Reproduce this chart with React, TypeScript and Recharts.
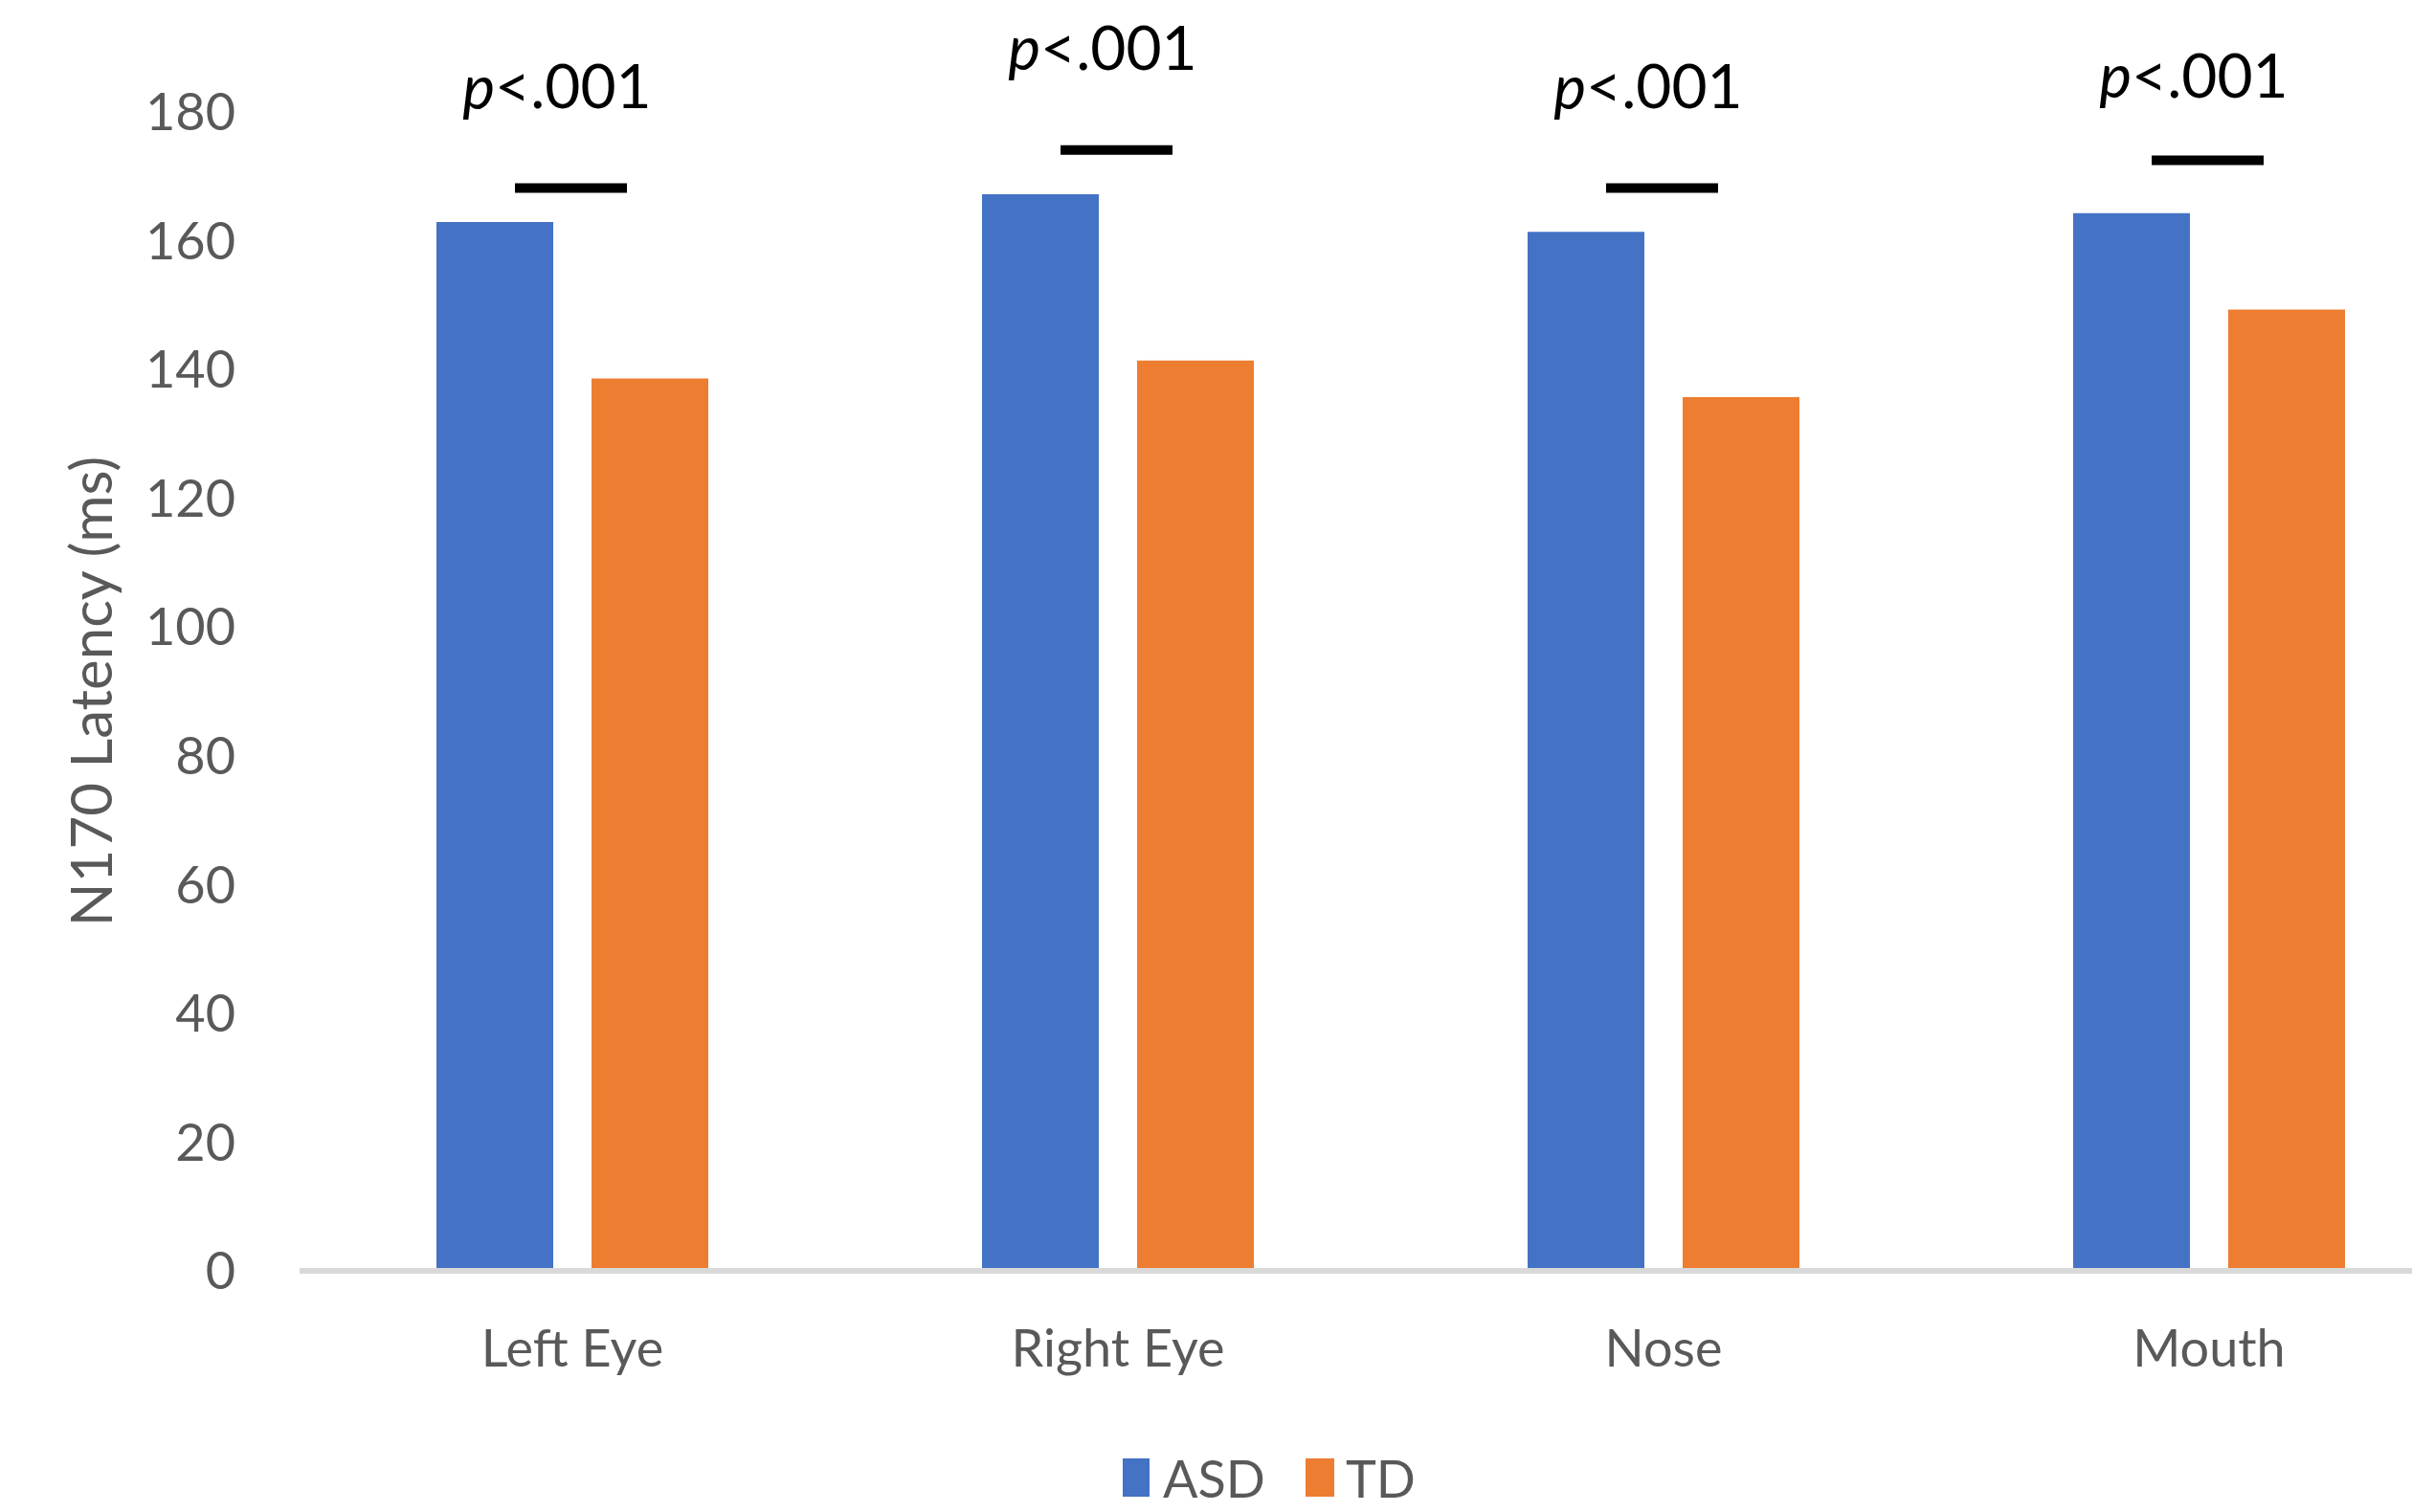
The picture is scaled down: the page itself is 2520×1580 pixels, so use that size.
import { BarChart, Bar, XAxis, YAxis, Legend, ReferenceDot } from "recharts";

// 各面部区域
const categories = ["Left Eye", "Right Eye", "Nose", "Mouth"];
// N170 潜伏期 (ms)
const asdValues = [162.9, 167.2, 161.4, 164.3];
const tdValues = [138.6, 141.4, 135.7, 149.3];
// 显著性标记位置 (y 轴数值)
const sigLineValues = [168.2, 174.1, 168.2, 172.5];
const sigTextValues = [184.2, 190.2, 184.2, 185.9];
const sigText = "<.001";
const yTicks = [0, 20, 40, 60, 80, 100, 120, 140, 160, 180];

const data = categories.map((name, i) => ({ name, ASD: asdValues[i], TD: tdValues[i] }));

const FONT = "Lato, 'Open Sans', sans-serif";
const GREY = "#595959";
const BLUE = "#4472C4";
const ORANGE = "#ED7D31";

const SigLine = (props: any) => (
  <line x1={props.cx - 60} x2={props.cx + 57} y1={props.cy} y2={props.cy} stroke="#000" strokeWidth={10} />
);

const SigText = (props: any) => (
  <text
    x={props.cx - 16}
    y={props.cy}
    textAnchor="middle"
    dominantBaseline="central"
    fontSize={64}
    fontFamily={FONT}
    fill="#000"
  >
    <tspan fontStyle="italic">p</tspan>
    {sigText}
  </text>
);

const YLabel = (props: any) => {
  const vb = props.viewBox || {};
  const cy = vb.y + vb.height / 2;
  return (
    <text
      x={94}
      y={cy}
      transform={`rotate(-90, 94, ${cy})`}
      textAnchor="middle"
      dominantBaseline="central"
      fontSize={60}
      fontFamily={FONT}
      fill={GREY}
    >
      N170 Latency (ms)
    </text>
  );
};

const LegendContent = () => (
  <div style={{ display: "flex", alignItems: "center", height: 56, fontFamily: FONT, fontSize: 54, color: GREY }}>
    <span style={{ display: "inline-block", width: 28, height: 40, background: BLUE, marginRight: 14 }} />
    <span style={{ marginRight: 42 }}>ASD</span>
    <span style={{ display: "inline-block", width: 30, height: 40, background: ORANGE, marginRight: 12 }} />
    <span>TD</span>
  </div>
);

export default function App() {
  return (
    <div style={{ position: "absolute", left: 0, top: 0, width: 2520, height: 1580, overflow: "hidden", background: "#fff" }}>
      <BarChart
        width={2650}
        height={1580}
        data={data}
        margin={{ top: 117, right: 57, left: 0, bottom: 8 }}
        barSize={122}
        barGap={40}
      >
        <XAxis
          dataKey="name"
          height={188}
          tickLine={false}
          tickSize={0}
          tickMargin={62}
          axisLine={{ stroke: "#d9d9d9", strokeWidth: 6 }}
          tick={{ fontSize: 54, fill: GREY, fontFamily: FONT }}
        />
        <YAxis
          width={313}
          domain={[0, 180]}
          ticks={yTicks}
          interval={0}
          axisLine={false}
          tickLine={false}
          tickSize={0}
          tickMargin={67}
          tick={{ fontSize: 54, fill: GREY, fontFamily: FONT }}
          label={YLabel}
        />
        <Legend
          verticalAlign="bottom"
          content={LegendContent}
          wrapperStyle={{ left: 1173, width: 400, height: 56 }}
        />
        <Bar dataKey="ASD" fill={BLUE} isAnimationActive={false} />
        <Bar dataKey="TD" fill={ORANGE} isAnimationActive={false} />
        {categories.map((c, i) => (
          <ReferenceDot key={`l-${c}`} x={c} y={sigLineValues[i]} ifOverflow="visible" shape={SigLine} />
        ))}
        {categories.map((c, i) => (
          <ReferenceDot key={`t-${c}`} x={c} y={sigTextValues[i]} ifOverflow="visible" shape={SigText} />
        ))}
      </BarChart>
    </div>
  );
}
